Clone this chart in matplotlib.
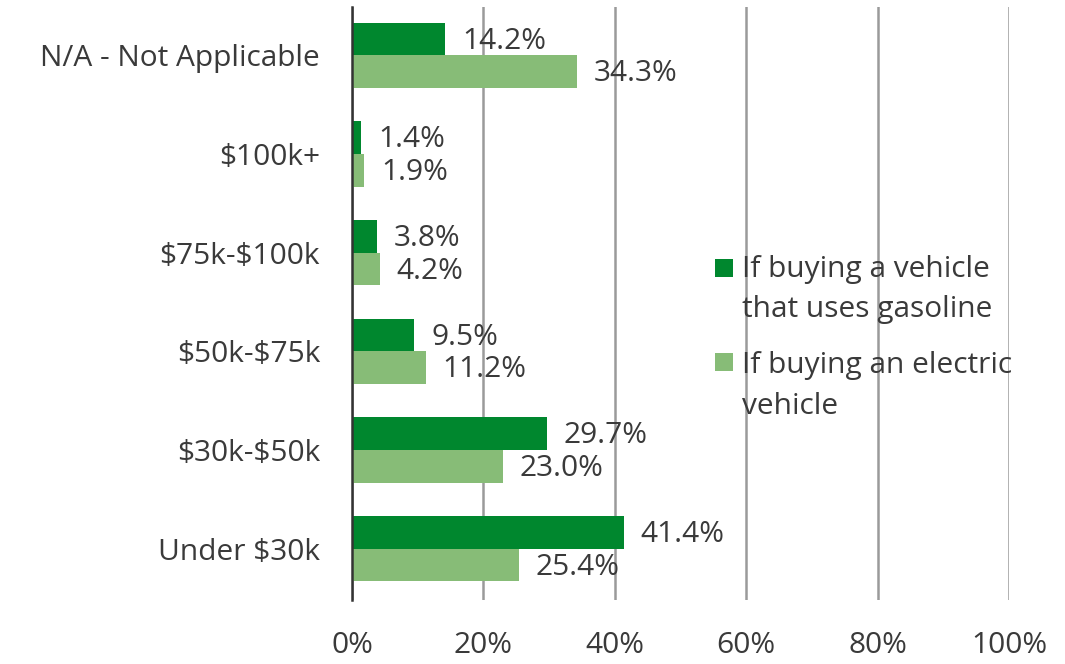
import matplotlib
matplotlib.use("Agg")
import matplotlib.pyplot as plt
from matplotlib.patches import Rectangle
import numpy as np

categories = ["Under $30k", "$30k-$50k", "$50k-$75k", "$75k-$100k", "$100k+", "N/A - Not Applicable"]
gasoline = [41.4, 29.7, 9.5, 3.8, 1.4, 14.2]
electric = [25.4, 23.0, 11.2, 4.2, 1.9, 34.3]
series_names = ["If buying a vehicle\nthat uses gasoline", "If buying an electric\nvehicle"]
xticks = [0, 20, 40, 60, 80, 100]
xtick_labels = ["0%", "20%", "40%", "60%", "80%", "100%"]

DARK = "#00872E"
LIGHT = "#87BC77"
TEXT = "#3a3a3a"
FS = 21.5
W, H = 1065, 664

plt.rcParams["font.family"] = ["Open Sans", "DejaVu Sans"]
plt.rcParams["text.parse_math"] = False

fig = plt.figure(figsize=(W / 100, H / 100), dpi=100)
ax = fig.add_axes([352 / W, 64 / H, 657 / W, 593 / H])

y = np.arange(len(categories))
h = 0.33
b1 = ax.barh(y + h / 2, gasoline, height=h, color=DARK, zorder=3)
b2 = ax.barh(y - h / 2, electric, height=h, color=LIGHT, zorder=3)

for bars, vals in ((b1, gasoline), (b2, electric)):
    for bar, v in zip(bars, vals):
        ax.annotate(f"{v:.1f}%", (v, bar.get_y() + bar.get_height() / 2),
                    xytext=(12, -1.5), textcoords="offset points",
                    va="center", ha="left", fontsize=FS, color=TEXT, zorder=4)

ax.set_xlim(0, 100)
ax.set_ylim(-0.52, 5.49)
ax.set_xticks(xticks)
ax.set_xticklabels(xtick_labels, fontsize=FS, color=TEXT)
ax.set_yticks(y)
ax.set_yticklabels(categories, fontsize=FS, color=TEXT)
ax.tick_params(axis="both", length=0)
ax.tick_params(axis="x", pad=22)
ax.tick_params(axis="y", pad=23)

ax.xaxis.grid(True, color="#9a9a9a", linewidth=1.8, zorder=0)
ax.set_axisbelow(True)
for s in ("top", "right", "bottom"):
    ax.spines[s].set_visible(False)
ax.spines["left"].set_color("#333333")
ax.spines["left"].set_linewidth(1.8)
ax.spines["left"].set_zorder(5)

# Legend: square swatch beside the first line of each wrapped label
def px(x, yy):
    return x / W, 1 - yy / H

legend_rows = [(268, [277, 317]), (362, [373, 414])]
for name, color, (sq_y, baselines) in zip(series_names, (DARK, LIGHT), legend_rows):
    x0, y0 = px(715, sq_y + 9)
    fig.patches.append(Rectangle((x0, y0), 18 / W, 18 / H, transform=fig.transFigure,
                                 facecolor=color, edgecolor="none", zorder=5))
    for line, bl in zip(name.split("\n"), baselines):
        tx, ty = px(742, bl)
        fig.text(tx, ty, line, fontsize=FS, color=TEXT, ha="left", va="baseline", zorder=5)

fig.savefig("out.png", dpi=100, facecolor="white")
